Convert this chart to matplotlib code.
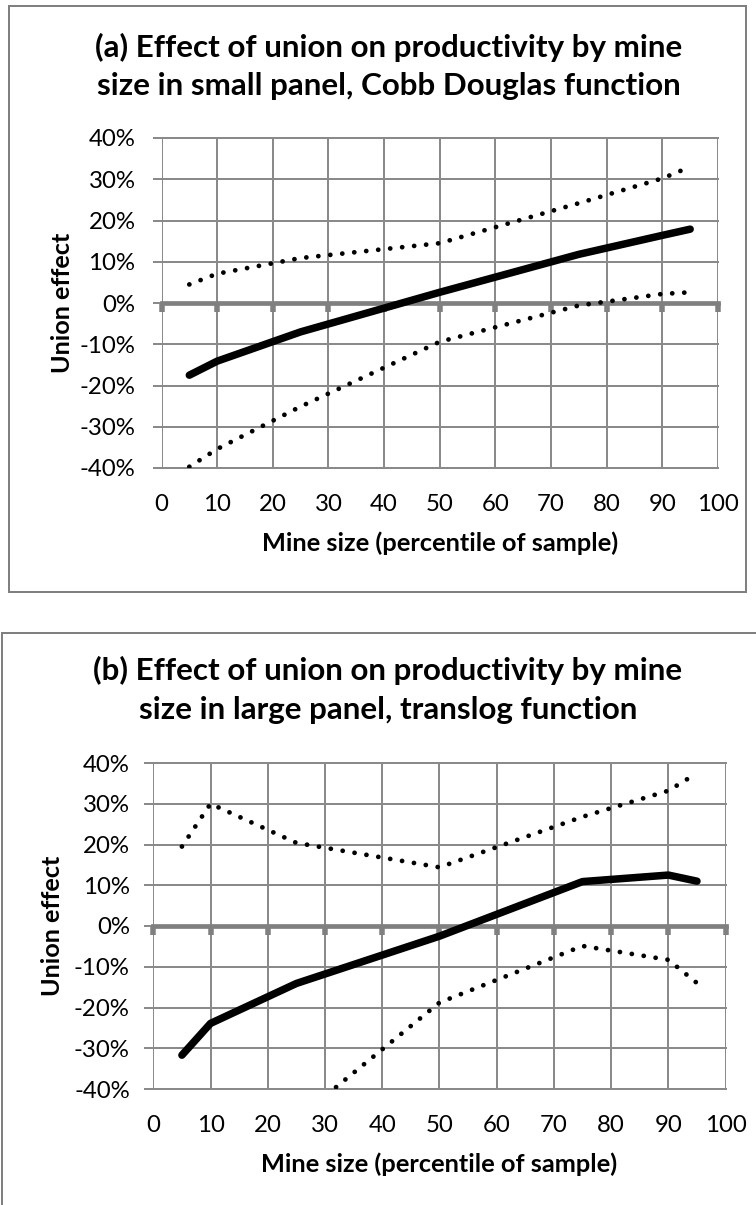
import matplotlib
matplotlib.use("Agg")
import matplotlib.pyplot as plt
from matplotlib.patches import Rectangle
from matplotlib.ticker import FuncFormatter, MultipleLocator

# ---------------- data ----------------
percentiles = [5, 10, 25, 50, 75, 90, 95]

a_effect = [-17.5, -14.1, -7.0, 2.6, 11.8, 16.4, 17.9]
a_upper = [4.5, 7.1, 10.9, 14.5, 24.2, 30.2, 33.0]
a_lower = [-39.7, -35.4, -25.1, -9.4, -0.6, 2.2, 2.6]

b_effect = [-31.7, -23.9, -14.1, -2.5, 10.9, 12.5, 11.0]
b_upper = [19.5, 30.0, 20.4, 14.4, 26.8, 33.2, 37.5]
b_lower = [-83.0, -77.7, -47.5, -18.8, -4.9, -8.3, -14.0]

x_ticks = list(range(0, 101, 10))
y_ticks = list(range(-40, 41, 10))

title_a = ["(a) Effect of union on productivity by mine",
           "size in small panel, Cobb Douglas function"]
title_b = ["(b) Effect of union on productivity by mine",
           "size in large panel, translog function"]
xlabel = "Mine size (percentile of sample)"
ylabel = "Union effect"

# ---------------- layout ----------------
W, H, DPI = 756, 1205, 100
FONT = "Lato"
GRID = "#8a8a8a"
ZERO = "#808080"
PX = 72.0 / DPI  # points per pixel

plt.rcParams["font.family"] = [FONT, "DejaVu Sans"]
fig = plt.figure(figsize=(W / DPI, H / DPI), dpi=DPI)
fig.patch.set_facecolor("white")
renderer = fig.canvas.get_renderer()


def fx(px):
    return px / W


def fy(py):
    return 1 - py / H


def size_for(text, target_w, weight="normal"):
    t = fig.text(0, 0, text, fontsize=10, fontweight=weight)
    w = t.get_window_extent(renderer).width
    t.remove()
    return 10 * target_w / w


fs_title = size_for(title_a[0], 590, "bold")
fs_tick = size_for("40%", 47)
fs_xlabel = size_for(xlabel, 358, "bold")
fs_ylabel = size_for(ylabel, 142, "bold")


def border(x0, y0, x1, y1):
    fig.patches.append(Rectangle((fx(x0), fy(y1)), fx(x1) - fx(x0), fy(y0) - fy(y1),
                                 transform=fig.transFigure, fill=False,
                                 edgecolor=ZERO, linewidth=2 * PX, zorder=0))


def panel(box, effect, upper, lower, titles, title_base, title_cx,
          xlab_base, ylab_cx, ylab_pad_px, xtick_top):
    left, top, right, bottom = box
    ax = fig.add_axes([fx(left), fy(bottom), fx(right) - fx(left), fy(top) - fy(bottom)])
    ax.set_xlim(0, 100)
    ax.set_ylim(-40, 40)
    ax.set_facecolor("white")
    ax.set_axisbelow(True)

    ax.xaxis.set_major_locator(MultipleLocator(10))
    ax.yaxis.set_major_locator(MultipleLocator(10))
    ax.grid(True, color=GRID, linewidth=2 * PX)
    for gl in ax.get_xgridlines() + ax.get_ygridlines():
        gl.set_clip_on(False)

    for s in ["left", "top", "right"]:
        ax.spines[s].set_visible(False)
    ax.spines["bottom"].set_position(("data", 0))
    ax.spines["bottom"].set_color(ZERO)
    ax.spines["bottom"].set_linewidth(4.7 * PX)
    ax.spines["bottom"].set_zorder(1)

    ax.tick_params(axis="x", direction="out", length=8.5 * PX, width=5.5 * PX,
                   color=ZERO, labelbottom=False)
    ax.tick_params(axis="y", direction="out", length=9 * PX, width=2 * PX,
                   color=GRID, labelsize=fs_tick, pad=ylab_pad_px * PX)
    ax.yaxis.set_major_formatter(FuncFormatter(lambda v, p: f"{v:.0f}%"))

    sec = ax.secondary_xaxis("bottom")
    sec.set_xticks(x_ticks)
    sec.tick_params(length=0, labelsize=fs_tick, pad=(xtick_top - bottom) * PX)
    sec.spines["bottom"].set_visible(False)

    ax.plot(percentiles, effect, color="black", linewidth=7.5 * PX,
            solid_capstyle="round", solid_joinstyle="round", zorder=3)
    for series in (upper, lower):
        ax.plot(percentiles, series, color="black", linewidth=4.8 * PX,
                linestyle=(0, (0.01, 2.5)), dash_capstyle="round", zorder=3)

    for i, line in enumerate(titles):
        fig.text(fx(title_cx), fy(title_base + i * 38.7), line, ha="center",
                 va="baseline", fontsize=fs_title, fontweight="bold")
    fig.text(fx((left + right) / 2), fy(xlab_base), xlabel, ha="center",
             va="baseline", fontsize=fs_xlabel, fontweight="bold")
    fig.text(fx(ylab_cx), fy((top + bottom) / 2), ylabel, ha="center",
             va="center", rotation=90, fontsize=fs_ylabel, fontweight="bold")
    return ax


border(9, 5.5, 746, 592)
border(1.5, 632.5, 775, 1230)

panel((161.5, 138, 718, 468), a_effect, a_upper, a_lower, title_a,
      title_base=56.5, title_cx=388.5, xlab_base=551.5, ylab_cx=62,
      ylab_pad_px=17, xtick_top=494)
panel((153.3, 763, 725.6, 1089), b_effect, b_upper, b_lower, title_b,
      title_base=680, title_cx=388, xlab_base=1171.5, ylab_cx=53,
      ylab_pad_px=14.5, xtick_top=1115)

fig.savefig("out.png", dpi=DPI, facecolor="white")
